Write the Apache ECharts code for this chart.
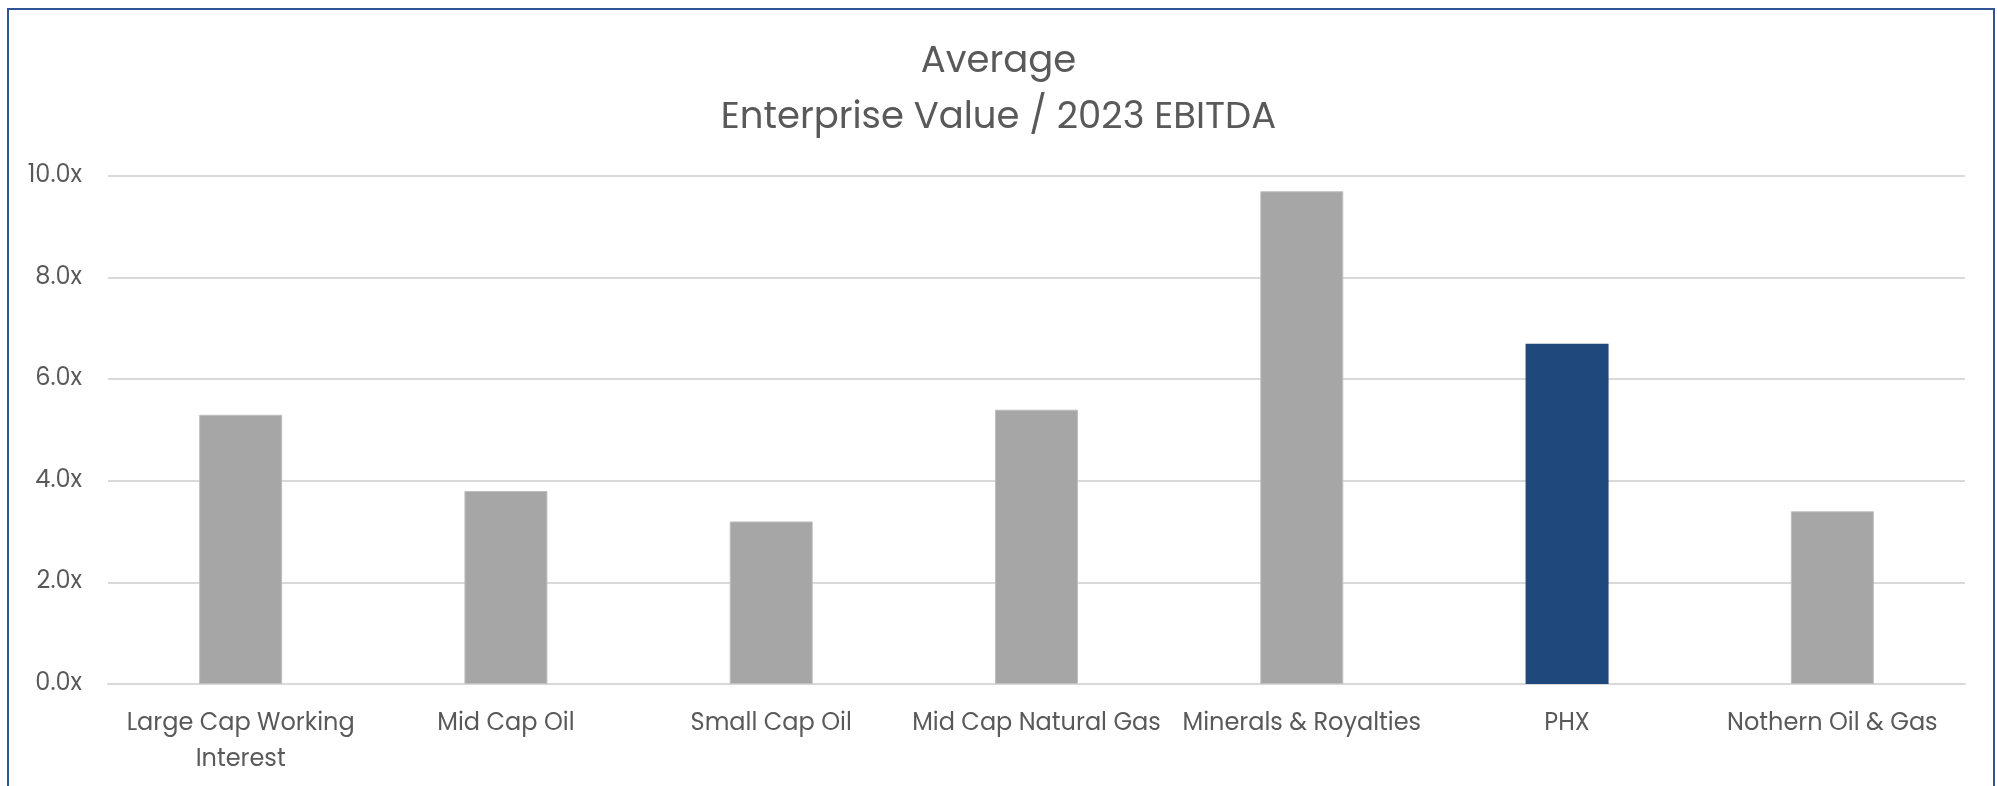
<!DOCTYPE html>
<html>
<head>
<meta charset="utf-8">
<title>Average Enterprise Value / 2023 EBITDA</title>
<script src="https://cdn.jsdelivr.net/npm/echarts@6/dist/echarts.min.js"></script>
<style>
  html, body { margin: 0; padding: 0; background: #ffffff; }
  #chart { width: 1997px; height: 786px; }
</style>
</head>
<body>
<div id="chart"></div>
<script>
// Peer group averages of EV / 2023 EBITDA
const categories = [
  'Large Cap Working\nInterest',
  'Mid Cap Oil',
  'Small Cap Oil',
  'Mid Cap Natural Gas',
  'Minerals & Royalties',
  'PHX',
  'Nothern Oil & Gas'
];
const multiples = [5.3, 3.8, 3.2, 5.4, 9.7, 6.7, 3.4];
const highlighted = 'PHX';
const yTicks = { min: 0, max: 10, interval: 2 };

const FONT = 'Poppins, "Open Sans", sans-serif';
const TEXT = '#595959';
const GREY = '#a6a6a6';
const NAVY = '#1f497d';

const chart = echarts.init(document.getElementById('chart'), null, { renderer: 'canvas' });

chart.setOption({
  backgroundColor: '#ffffff',
  animation: false,
  title: {
    text: 'Average\nEnterprise Value / 2023 EBITDA',
    left: 'center',
    top: 30,
    textStyle: {
      fontFamily: FONT,
      fontSize: 37,
      fontWeight: 'normal',
      color: TEXT,
      lineHeight: 56
    }
  },
  grid: { left: 108, right: 32, top: 176, bottom: 102, containLabel: false },
  xAxis: {
    type: 'category',
    data: categories,
    axisLine: { show: true, lineStyle: { color: '#d9d9d9', width: 2 } },
    axisTick: { show: false },
    axisLabel: {
      interval: 0,
      margin: 22,
      fontFamily: FONT,
      fontSize: 24,
      lineHeight: 36,
      color: TEXT
    }
  },
  yAxis: {
    type: 'value',
    min: yTicks.min,
    max: yTicks.max,
    interval: yTicks.interval,
    axisLine: { show: false },
    axisTick: { show: false },
    splitLine: { lineStyle: { color: '#d9d9d9', width: 2 } },
    axisLabel: {
      margin: 26,
      fontFamily: FONT,
      fontSize: 24,
      color: TEXT,
      formatter: v => v.toFixed(1) + 'x'
    }
  },
  series: [{
    type: 'bar',
    barWidth: 83,
    data: multiples.map((v, i) => ({
      value: v,
      itemStyle: categories[i] === highlighted
        ? { color: NAVY }
        : { color: GREY, borderColor: '#bfbfbf', borderWidth: 1 }
    }))
  }],
  graphic: [{
    type: 'rect',
    shape: { x: 8, y: 9, width: 1986, height: 800 },
    style: { fill: 'none', stroke: '#2f5597', lineWidth: 2 },
    silent: true,
    z: 100
  }]
});
</script>
</body>
</html>
